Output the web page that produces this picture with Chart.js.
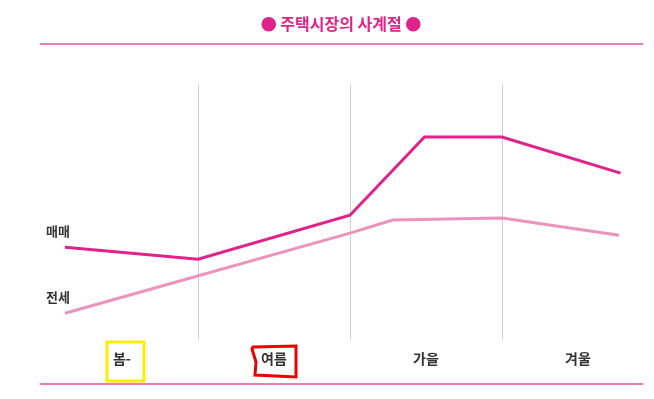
<!DOCTYPE html>
<html>
<head>
<meta charset="utf-8">
<script src="https://cdn.jsdelivr.net/npm/chart.js@4.4.0/dist/chart.umd.min.js"></script>
<style>
  html, body { margin: 0; padding: 0; background: #ffffff; }
  #wrap { width: 654px; height: 399px; position: relative; }
</style>
</head>
<body>
<div id="wrap"><canvas id="c" width="654" height="399"></canvas></div>
<script>
// ---- data ----
const seasons = ['봄-', '여름', '가을', '겨울'];
const seriesNames = ['매매', '전세'];
// x positions in "season" units (0..4), y in relative units (0..100)
const saleX   = [0.125, 1, 2, 2.49, 3, 3.78];
const saleY   = [36.3, 31.6, 48.8, 79.3, 79.3, 65.2];
const leaseX  = [0.125, 2, 2.28, 3, 3.77];
const leaseY  = [10.5, 41.8, 46.9, 47.7, 41.0];
const titleText = '● 주택시장의 사계절 ●';

const toPts = (xs, ys) => xs.map((x, i) => ({ x: x, y: ys[i] }));

const FONT = "'Noto Sans CJK KR', 'Noto Sans', sans-serif";

const decor = {
  id: 'decor',
  beforeDraw(chart) {
    const ctx = chart.ctx;
    ctx.save();
    ctx.strokeStyle = '#e2509f';
    ctx.lineWidth = 1.5;
    [44, 384].forEach(y => {
      ctx.beginPath();
      ctx.moveTo(40, y);
      ctx.lineTo(643, y);
      ctx.stroke();
    });
    // title
    ctx.font = 'bold 16px ' + FONT;
    ctx.fillStyle = '#e0228a';
    ctx.textAlign = 'center';
    ctx.textBaseline = 'middle';
    ctx.fillText(titleText, 341, 24);
    ctx.restore();
  },
  afterDraw(chart) {
    const ctx = chart.ctx;
    ctx.save();
    // series labels next to the first point of each line
    ctx.font = 'bold 13px ' + FONT;
    ctx.fillStyle = '#333333';
    ctx.textAlign = 'left';
    ctx.textBaseline = 'middle';
    chart.data.datasets.forEach((ds, i) => {
      const p = chart.getDatasetMeta(i).data[0];
      ctx.fillText(ds.label, p.x - 19, p.y - 16);
    });
    // highlight boxes around the first two season labels
    const xs = chart.scales.x;
    const c0 = xs.getPixelForValue(0.5);
    const c1 = xs.getPixelForValue(1.5);
    ctx.lineWidth = 3;
    ctx.strokeStyle = '#ffee00';
    ctx.strokeRect(c0 - 15, 342, 37, 39);
    ctx.strokeStyle = '#ee0000';
    ctx.beginPath();
    ctx.moveTo(c1 - 21, 347);
    ctx.lineTo(c1 + 22, 346);
    ctx.lineTo(c1 + 22, 377);
    ctx.lineTo(c1 - 19, 375);
    ctx.lineTo(c1 - 18, 362);
    ctx.lineTo(c1 - 22, 349);
    ctx.closePath();
    ctx.stroke();
    ctx.restore();
  }
};

new Chart(document.getElementById('c'), {
  type: 'line',
  data: {
    datasets: [
      { label: seriesNames[0], data: toPts(saleX, saleY), borderColor: '#e0228a', borderWidth: 3, pointRadius: 0, tension: 0 },
      { label: seriesNames[1], data: toPts(leaseX, leaseY), borderColor: '#eb93bd', borderWidth: 3, pointRadius: 0, tension: 0 }
    ]
  },
  options: {
    responsive: false,
    animation: false,
    layout: { padding: { left: 46, right: 0, top: 84, bottom: 22 } },
    plugins: {
      legend: { display: false },
      tooltip: { enabled: false },
      title: { display: false }
    },
    scales: {
      x: {
        type: 'linear',
        min: 0, max: 4,
        afterBuildTicks: (s) => { s.ticks = seasons.map((_, i) => ({ value: i + 0.5 })); },
        ticks: {
          callback: (v, i) => seasons[i],
          color: '#333333',
          font: { family: FONT, size: 14, weight: 'bold' },
          padding: 10,
          autoSkip: false,
          maxRotation: 0
        },
        grid: {
          offset: true,
          drawTicks: false,
          color: (ctx) => (ctx.index === undefined || ctx.index === 0) ? 'rgba(0,0,0,0)' : '#cfcfcf',
          lineWidth: 1
        },
        border: { display: false }
      },
      y: {
        display: false,
        min: 0, max: 100
      }
    }
  },
  plugins: [decor]
});
</script>
</body>
</html>
